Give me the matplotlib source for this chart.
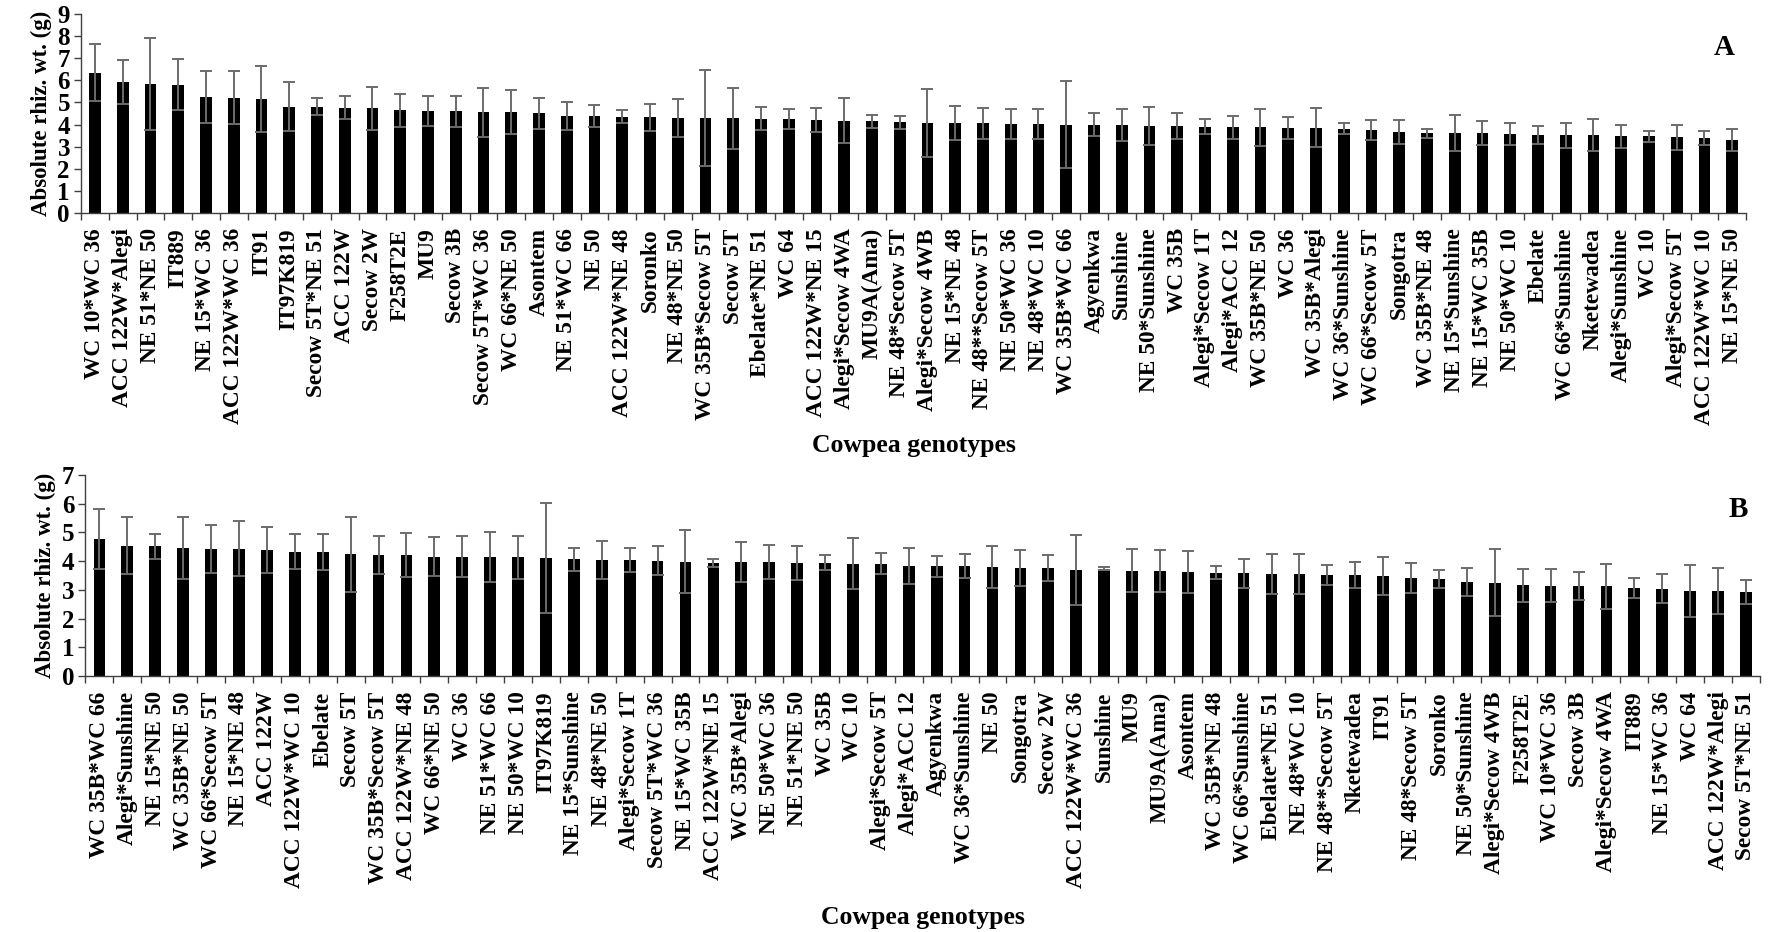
import numpy as np
import matplotlib
matplotlib.use('Agg')
import matplotlib.pyplot as plt
from matplotlib.ticker import FixedLocator, NullFormatter

plt.rcParams['font.family'] = ['Liberation Serif', 'DejaVu Serif']
plt.rcParams['font.weight'] = 'bold'

# panel A
labels_a = ['WC 10*WC 36', 'ACC 122W*Alegi', 'NE 51*NE 50', 'IT889', 'NE 15*WC 36',
            'ACC 122W*WC 36', 'IT91', 'IT97K819', 'Secow 5T*NE 51', 'ACC 122W',
            'Secow 2W', 'F258T2E', 'MU9', 'Secow 3B', 'Secow 5T*WC 36',
            'WC 66*NE 50', 'Asontem', 'NE 51*WC 66', 'NE 50', 'ACC 122W*NE 48',
            'Soronko', 'NE 48*NE 50', 'WC 35B*Secow 5T', 'Secow 5T', 'Ebelate*NE 51',
            'WC 64', 'ACC 122W*NE 15', 'Alegi*Secow 4WA', 'MU9A(Ama)', 'NE 48*Secow 5T',
            'Alegi*Secow 4WB', 'NE 15*NE 48', 'NE 48**Secow 5T', 'NE 50*WC 36', 'NE 48*WC 10',
            'WC 35B*WC 66', 'Agyenkwa', 'Sunshine', 'NE 50*Sunshine', 'WC 35B',
            'Alegi*Secow 1T', 'Alegi*ACC 12', 'WC 35B*NE 50', 'WC 36', 'WC 35B*Alegi',
            'WC 36*Sunshine', 'WC 66*Secow 5T', 'Songotra', 'WC 35B*NE 48', 'NE 15*Sunshine',
            'NE 15*WC 35B', 'NE 50*WC 10', 'Ebelate', 'WC 66*Sunshine', 'Nketewadea',
            'Alegi*Sunshine', 'WC 10', 'Alegi*Secow 5T', 'ACC 122W*WC 10', 'NE 15*NE 50']
mean_a = [6.35, 5.93, 5.84, 5.81, 5.25, 5.22, 5.16, 4.80, 4.80, 4.77,
          4.73, 4.65, 4.62, 4.59, 4.55, 4.55, 4.50, 4.39, 4.39, 4.35,
          4.32, 4.29, 4.29, 4.29, 4.26, 4.24, 4.21, 4.18, 4.15, 4.11,
          4.08, 4.06, 4.05, 4.02, 4.02, 4.00, 3.99, 3.96, 3.94, 3.93,
          3.90, 3.87, 3.87, 3.85, 3.85, 3.81, 3.76, 3.66, 3.61, 3.61,
          3.61, 3.58, 3.52, 3.52, 3.52, 3.46, 3.46, 3.42, 3.40, 3.31]
sd_a = [1.28, 0.98, 2.09, 1.14, 1.19, 1.19, 1.50, 1.11, 0.38, 0.50,
        0.96, 0.75, 0.68, 0.71, 1.10, 1.00, 0.72, 0.65, 0.50, 0.29,
        0.63, 0.86, 2.18, 1.38, 0.53, 0.45, 0.53, 1.00, 0.30, 0.29,
        1.53, 0.78, 0.69, 0.69, 0.66, 1.97, 0.53, 0.72, 0.86, 0.59,
        0.35, 0.53, 0.83, 0.51, 0.88, 0.26, 0.45, 0.53, 0.20, 0.80,
        0.54, 0.50, 0.42, 0.57, 0.71, 0.51, 0.26, 0.57, 0.32, 0.51]

# panel B
labels_b = ['WC 35B*WC 66', 'Alegi*Sunshine', 'NE 15*NE 50', 'WC 35B*NE 50', 'WC 66*Secow 5T',
            'NE 15*NE 48', 'ACC 122W', 'ACC 122W*WC 10', 'Ebelate', 'Secow 5T',
            'WC 35B*Secow 5T', 'ACC 122W*NE 48', 'WC 66*NE 50', 'WC 36', 'NE 51*WC 66',
            'NE 50*WC 10', 'IT97K819', 'NE 15*Sunshine', 'NE 48*NE 50', 'Alegi*Secow 1T',
            'Secow 5T*WC 36', 'NE 15*WC 35B', 'ACC 122W*NE 15', 'WC 35B*Alegi', 'NE 50*WC 36',
            'NE 51*NE 50', 'WC 35B', 'WC 10', 'Alegi*Secow 5T', 'Alegi*ACC 12',
            'Agyenkwa', 'WC 36*Sunshine', 'NE 50', 'Songotra', 'Secow 2W',
            'ACC 122W*WC 36', 'Sunshine', 'MU9', 'MU9A(Ama)', 'Asontem',
            'WC 35B*NE 48', 'WC 66*Sunshine', 'Ebelate*NE 51', 'NE 48*WC 10', 'NE 48**Secow 5T',
            'Nketewadea', 'IT91', 'NE 48*Secow 5T', 'Soronko', 'NE 50*Sunshine',
            'Alegi*Secow 4WB', 'F258T2E', 'WC 10*WC 36', 'Secow 3B', 'Alegi*Secow 4WA',
            'IT889', 'NE 15*WC 36', 'WC 64', 'ACC 122W*Alegi', 'Secow 5T*NE 51']
mean_b = [4.76, 4.54, 4.51, 4.45, 4.43, 4.43, 4.39, 4.33, 4.31, 4.24,
          4.22, 4.22, 4.16, 4.16, 4.15, 4.13, 4.11, 4.07, 4.04, 4.04,
          4.01, 3.98, 3.95, 3.96, 3.96, 3.94, 3.94, 3.91, 3.91, 3.83,
          3.82, 3.82, 3.80, 3.77, 3.76, 3.69, 3.73, 3.67, 3.65, 3.62,
          3.60, 3.57, 3.55, 3.54, 3.52, 3.52, 3.47, 3.41, 3.38, 3.26,
          3.25, 3.16, 3.14, 3.14, 3.12, 3.07, 3.04, 2.96, 2.95, 2.93]
sd_b = [1.05, 0.99, 0.44, 1.09, 0.84, 0.95, 0.79, 0.61, 0.62, 1.30,
        0.67, 0.77, 0.67, 0.72, 0.88, 0.76, 1.92, 0.40, 0.67, 0.42,
        0.50, 1.10, 0.14, 0.69, 0.59, 0.59, 0.26, 0.89, 0.36, 0.63,
        0.36, 0.41, 0.72, 0.63, 0.45, 1.23, 0.05, 0.75, 0.74, 0.73,
        0.23, 0.52, 0.70, 0.70, 0.34, 0.45, 0.66, 0.52, 0.32, 0.49,
        1.17, 0.58, 0.58, 0.48, 0.78, 0.35, 0.50, 0.91, 0.80, 0.42]

axis_col = '#404040'


def panel(ax, labels, means, sds, ymax, letter, xlab_pad):
    x = np.arange(len(labels))
    ax.bar(x, means, width=0.42, color='black', yerr=sds,
           error_kw=dict(ecolor='#6b6b6b', elinewidth=1.4, capsize=4.3, capthick=1.4))
    ax.set_xlim(-0.5, len(labels) - 0.5)
    ax.set_ylim(0, ymax)
    ax.set_yticks(range(ymax + 1))
    ax.set_xticks(x)
    ax.set_xticklabels(labels, rotation=90, fontsize=16.8, fontweight='bold')
    ax.tick_params(axis='x', which='major', length=0, pad=11)
    ax.xaxis.set_minor_locator(FixedLocator(np.arange(-0.5, len(labels), 1.0)))
    ax.xaxis.set_minor_formatter(NullFormatter())
    ax.tick_params(axis='x', which='minor', length=5, width=1, color=axis_col)
    ax.tick_params(axis='y', length=5, width=1, color=axis_col, labelsize=18, pad=3)
    for t in ax.get_yticklabels():
        t.set_fontweight('bold')
    for s in ['top', 'right']:
        ax.spines[s].set_visible(False)
    for s in ['left', 'bottom']:
        ax.spines[s].set_color(axis_col)
        ax.spines[s].set_linewidth(1)
    ax.set_xlabel('Cowpea genotypes', fontsize=18.5, fontweight='bold', labelpad=xlab_pad)
    ax.set_ylabel('Absolute rhiz. wt. (g)', fontsize=16.5, fontweight='bold', labelpad=4)
    ax.text(0.993, 0.83, letter, transform=ax.transAxes, fontsize=21,
            fontweight='bold', ha='right', va='center')


fig = plt.figure(figsize=(17.7, 9.32), dpi=100)
ax_a = fig.add_axes([0.0458, 0.7715, 0.9407, 0.2135])
ax_b = fig.add_axes([0.0483, 0.2747, 0.946, 0.2157])

panel(ax_a, labels_a, mean_a, sd_a, 9, 'A', 6.5)
panel(ax_b, labels_b, mean_b, sd_b, 7, 'B', 13.5)

fig.savefig('out.png', dpi=100)
